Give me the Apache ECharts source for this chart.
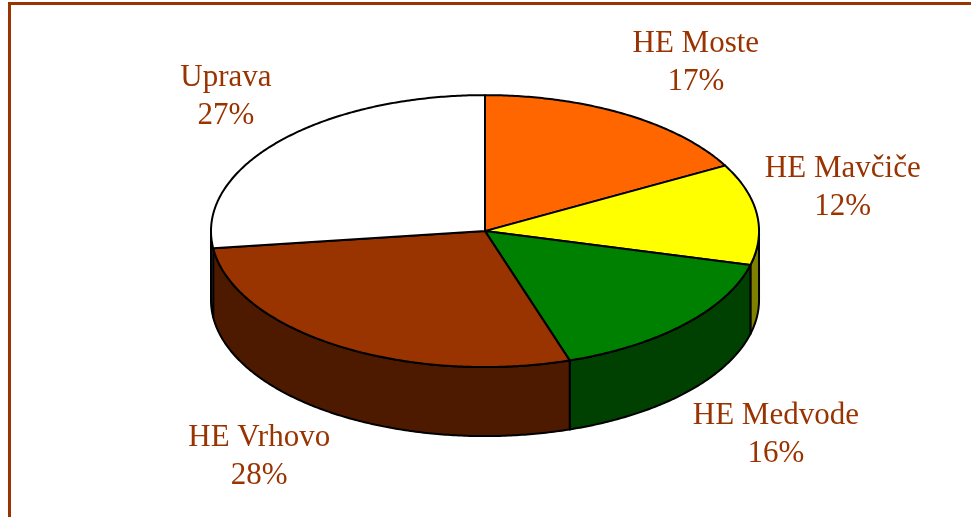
<!DOCTYPE html>
<html>
<head>
<meta charset="utf-8">
<script src="https://cdn.jsdelivr.net/npm/echarts@6/dist/echarts.min.js"></script>
<style>
  html, body { margin: 0; padding: 0; background: #fff; }
  #chart { width: 971px; height: 517px; }
</style>
</head>
<body>
<div id="chart"></div>
<script>
// podatki: delež po enotah (v %), začetek na 12h, v smeri urinega kazalca
const categories = ['HE Moste', 'HE Mavčiče', 'HE Medvode', 'HE Vrhovo', 'Uprava'];
const shares = [17, 12, 16, 28, 27];
const topColors = ['#FF6600', '#FFFF00', '#008000', '#993300', '#FFFFFF'];
const sideColors = ['#803300', '#808000', '#004000', '#4D1A00', '#808080'];

const labelColor = '#993300';
const labelFont = '31px "Liberation Serif", serif';

const total = shares.reduce((a, b) => a + b, 0);
const cumulative = [];
shares.reduce((acc, v, i) => { cumulative[i] = acc; return acc + v; }, 0);

// merjenje širine besedila za postavitev oznak
const measureCtx = document.createElement('canvas').getContext('2d');
measureCtx.font = labelFont;

const chart = echarts.init(document.getElementById('chart'), null, { renderer: 'canvas' });

function renderSlice(params, api) {
  const W = api.getWidth();
  const H = api.getHeight();
  // geometrija 3D torte (razmerja glede na platno)
  const cx = W * 0.4995;
  const cy = H * 0.447;
  const rx = W * 0.2822;
  const ry = H * 0.263;
  const depth = H * 0.1335;

  const i = params.dataIndex;
  const value = api.value(0);
  const a0 = cumulative[i] / total * Math.PI * 2;
  const a1 = (cumulative[i] + value) / total * Math.PI * 2;

  const pt = (t, dz) => [cx + rx * Math.sin(t), cy - ry * Math.cos(t) + dz];
  const arc = (s, e, dz) => {
    const n = Math.max(2, Math.ceil(Math.abs(e - s) / 0.01));
    const pts = [];
    for (let k = 0; k <= n; k++) pts.push(pt(s + (e - s) * k / n, dz));
    return pts;
  };

  const children = [];

  // stranska ploskev (vidna le na sprednji polovici)
  const s = Math.max(a0, Math.PI / 2);
  const e = Math.min(a1, Math.PI * 1.5);
  if (e > s) {
    const sidePts = arc(s, e, 0).concat(arc(e, s, depth));
    children.push({
      type: 'polygon',
      z2: 1,
      shape: { points: sidePts },
      style: { fill: sideColors[i], stroke: '#000', lineWidth: 2, lineJoin: 'round' }
    });
  }

  // zgornja ploskev
  const topPts = [[cx, cy]].concat(arc(a0, a1, 0));
  children.push({
    type: 'polygon',
    z2: 2,
    shape: { points: topPts },
    style: { fill: topColors[i], stroke: '#000', lineWidth: 2, lineJoin: 'round' }
  });

  // oznaka zunaj torte
  const mid = (a0 + a1) / 2;
  const sn = Math.sin(mid);
  const cs = Math.cos(mid);
  const edge = pt(mid, cs < 0 ? depth : 0);
  const name = categories[i];
  const pct = Math.round(value / total * 100) + '%';
  const halfW = Math.max(measureCtx.measureText(name).width, measureCtx.measureText(pct).width) / 2;
  const lx = edge[0] + Math.sign(sn) * (halfW + 8);
  const ly = edge[1] + (cs >= 0 ? -(22 + 34 * cs) : 42);
  children.push({
    type: 'text',
    z2: 3,
    style: {
      text: name + '\n' + pct,
      x: lx,
      y: ly,
      align: 'center',
      verticalAlign: 'middle',
      fill: labelColor,
      font: labelFont,
      lineHeight: 38
    }
  });

  return { type: 'group', children: children };
}

const option = {
  backgroundColor: '#fff',
  animation: false,
  graphic: [
    // okvir (zgoraj in levo)
    { type: 'line', shape: { x1: 8, y1: 3.5, x2: 971, y2: 3.5 }, style: { stroke: '#993300', lineWidth: 3 } },
    { type: 'line', shape: { x1: 9.5, y1: 2, x2: 9.5, y2: 517 }, style: { stroke: '#993300', lineWidth: 3 } }
  ],
  series: [{
    type: 'custom',
    coordinateSystem: 'none',
    renderItem: renderSlice,
    data: shares.map((v, i) => ({ name: categories[i], value: [v] }))
  }]
};

chart.setOption(option);
</script>
</body>
</html>
